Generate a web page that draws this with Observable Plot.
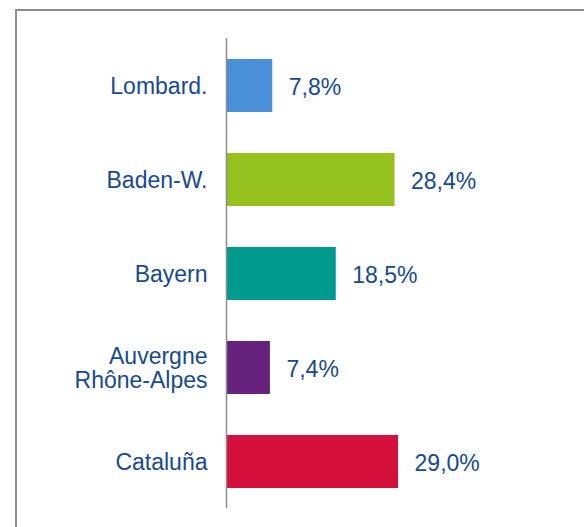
<!DOCTYPE html>
<html>
<head>
<meta charset="utf-8">
<script src="https://cdn.jsdelivr.net/npm/d3@7"></script>
<script src="https://cdn.jsdelivr.net/npm/@observablehq/plot@0.6"></script>
<style>
  html, body { margin: 0; padding: 0; background: #fff; overflow: hidden; }
  #wrap { position: relative; width: 584px; height: 527px; }
  #frame { position: absolute; left: 15px; top: 9px; width: 600px; height: 600px;
           border: 2px solid #8c8c8c; box-sizing: border-box; }
  #chart { position: absolute; left: 0; top: 0; }
</style>
</head>
<body>
<div id="wrap"><div id="frame"></div><div id="chart"></div></div>
<script>
const regions = ["Lombard.", "Baden-W.", "Bayern", "Auvergne\nRhône-Alpes", "Cataluña"];
const shares = [7.8, 28.4, 18.5, 7.4, 29.0];
const valueLabels = ["7,8%", "28,4%", "18,5%", "7,4%", "29,0%"];
const barColors = ["#4a90d9", "#95c11f", "#009a8e", "#65237e", "#d5103c"];

const data = regions.map((r, i) => ({region: r, value: shares[i], label: valueLabels[i], color: barColors[i]}));
const textColor = "#164a90";

const chart = Plot.plot({
  width: 584,
  height: 527,
  marginLeft: 226,
  marginRight: 2,
  marginTop: 38,
  marginBottom: 19,
  style: {fontFamily: "Liberation Sans, Arial, sans-serif", background: "transparent"},
  x: {domain: [0, 60], axis: null},
  y: {domain: regions, paddingInner: 0.44, paddingOuter: 0.22, label: null},
  marks: [
    Plot.barX(data, {x: "value", y: "region", fill: "color"}),
    Plot.text(data, {x: "value", y: "region", text: "label", textAnchor: "start", dx: 16, dy: 2,
      fill: textColor, fontSize: 23}),
    Plot.axisY({tickSize: 0, tickPadding: 19, fontSize: 23, color: textColor, label: null, lineHeight: 1.08}),
    Plot.ruleX([0], {stroke: "#8c8c8c", strokeWidth: 1.5})
  ]
});
document.getElementById("chart").appendChild(chart);
</script>
</body>
</html>
